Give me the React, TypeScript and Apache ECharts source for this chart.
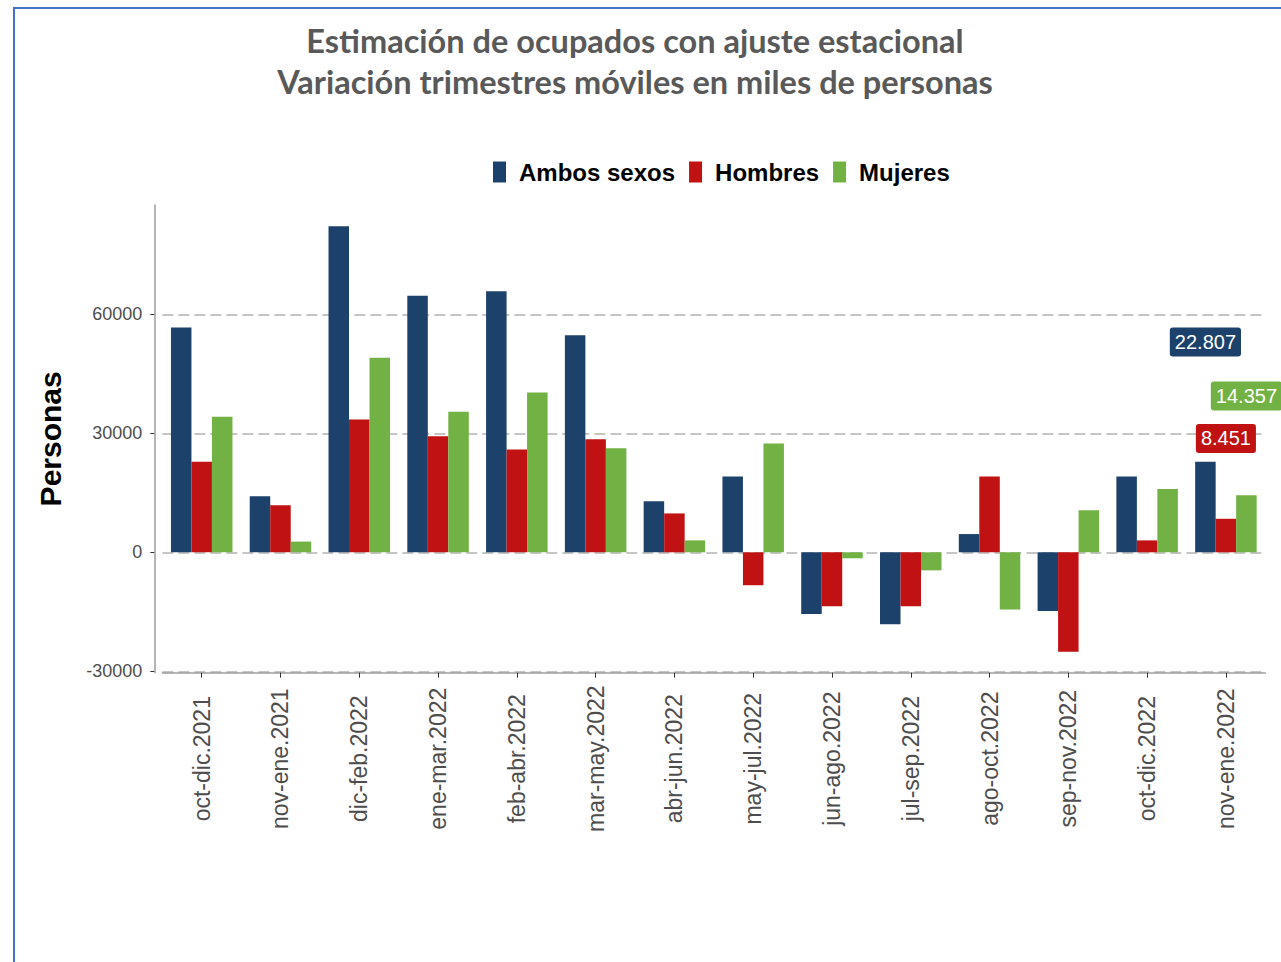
import React, { useEffect, useRef } from "react";
import * as echarts from "echarts";

const categories = [
  "oct-dic.2021", "nov-ene.2021", "dic-feb.2022", "ene-mar.2022", "feb-abr.2022",
  "mar-may.2022", "abr-jun.2022", "may-jul.2022", "jun-ago.2022", "jul-sep.2022",
  "ago-oct.2022", "sep-nov.2022", "oct-dic.2022", "nov-ene.2022",
];
const ambos = [56700, 14100, 82200, 64700, 65800, 54700, 12900, 19100, -15550, -18150, 4600, -14800, 19100, 22807];
const hombres = [22800, 11850, 33500, 29250, 25900, 28500, 9800, -8300, -13600, -13600, 19100, -25050, 3000, 8451];
const mujeres = [34200, 2700, 49050, 35400, 40300, 26200, 3000, 27400, -1500, -4550, -14400, 10600, 15950, 14357];
const seriesNames = ["Ambos sexos", "Hombres", "Mujeres"];
const colors = ["#1C426B", "#C01212", "#72B144"];
const yTicks = [-30000, 0, 30000, 60000];
// value labels for the last period and the y value where each label box sits
const lastLabels = ["22.807", "8.451", "14.357"];
const lastLabelY = [53000, 28700, 39400];
const titleLines = [
  "Estimación de ocupados con ajuste estacional",
  "Variación trimestres móviles en miles de personas",
];

export default function App() {
  const ref = useRef<HTMLDivElement>(null);
  useEffect(() => {
    if (!ref.current) return;
    const chart = echarts.init(ref.current, null, { renderer: "svg" });
    const data = [ambos, hombres, mujeres];
    const last = categories.length - 1;
    const titleStyle = {
      fontSize: 32.5,
      fontWeight: "bold",
      fontFamily: "Lato, sans-serif",
      fill: "#595959",
      align: "center",
      verticalAlign: "middle",
    };
    chart.setOption({
      animation: false,
      backgroundColor: "#ffffff",
      textStyle: { fontFamily: "Liberation Sans, Arial, sans-serif" },
      graphic: [
        {
          type: "rect",
          shape: { x: 14, y: 8, width: 1400, height: 1000 },
          style: { fill: "none", stroke: "#4472C4", lineWidth: 2 },
          silent: true,
        },
        { type: "text", x: 635, y: 40, style: { ...titleStyle, text: titleLines[0] } },
        { type: "text", x: 635, y: 81, style: { ...titleStyle, text: titleLines[1] } },
      ],
      legend: {
        left: 493,
        top: 160,
        padding: 0,
        icon: "rect",
        itemWidth: 13,
        itemHeight: 21,
        itemGap: 14,
        data: seriesNames,
        textStyle: {
          fontSize: 24,
          fontWeight: "bold",
          color: "#000000",
          fontFamily: "Liberation Sans, Arial, sans-serif",
          padding: [0, 0, 0, 8],
        },
      },
      grid: { left: 162.3, right: 15.7, top: 205, bottom: 289.3 },
      xAxis: {
        type: "category",
        data: categories,
        axisLine: { show: true, onZero: false, lineStyle: { color: "#9e9e9e", width: 1.5 } },
        axisTick: { show: true, alignWithLabel: true, length: 5, lineStyle: { color: "#333333" } },
        axisLabel: {
          interval: 0,
          rotate: 90,
          align: "center",
          verticalAlign: "middle",
          margin: 86,
          fontSize: 23,
          color: "#4d4d4d",
        },
        splitLine: { show: false },
      },
      yAxis: {
        type: "value",
        min: -30350,
        max: 87550,
        offset: 8,
        name: "Personas",
        nameLocation: "middle",
        nameGap: 89,
        nameTextStyle: { fontSize: 30, fontWeight: "bold", color: "#000000" },
        axisLine: { show: true, lineStyle: { color: "#9e9e9e", width: 1.5 } },
        axisTick: { show: true, length: 4, customValues: yTicks, lineStyle: { color: "#333333" } },
        axisLabel: {
          customValues: yTicks,
          fontSize: 18,
          color: "#4d4d4d",
          margin: 12,
          formatter: (v: number) => String(v),
        },
        splitLine: {
          show: true,
          lineStyle: { color: "#b3b3b3", width: 1.5, type: [11, 5] },
        },
      },
      series: data.map((vals, i) => ({
        name: seriesNames[i],
        type: "bar",
        data: vals,
        barWidth: 20.5,
        barGap: "0%",
        itemStyle: { color: colors[i] },
        markPoint: {
          symbol: "rect",
          symbolSize: 1,
          itemStyle: { color: "rgba(0,0,0,0)" },
          label: {
            show: true,
            position: "inside",
            color: "#ffffff",
            fontSize: 20,
            backgroundColor: colors[i],
            padding: [5, 5, 4, 5],
            borderRadius: 3,
            formatter: () => lastLabels[i],
          },
          data: [{ coord: [last, lastLabelY[i]] }],
        },
      })),
    });
    return () => chart.dispose();
  }, []);
  return (
    <div
      ref={ref}
      style={{ position: "fixed", left: 0, top: 0, width: 1281, height: 962, background: "#fff" }}
    />
  );
}
